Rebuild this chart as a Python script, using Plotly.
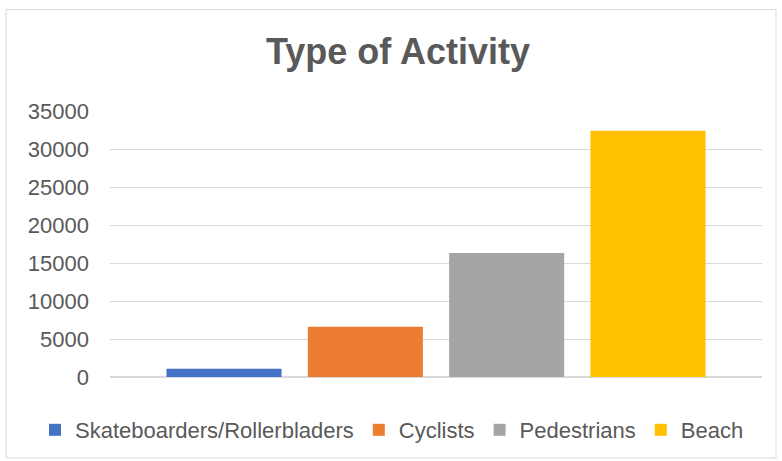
import plotly.graph_objects as go

title_text = "Type of Activity"
series_names = ["Skateboarders/Rollerbladers", "Cyclists", "Pedestrians", "Beach"]
series_values = [1100, 6600, 16300, 32400]
series_colors = ["#4472C4", "#ED7D31", "#A5A5A5", "#FFC000"]
category = [""]
y_ticks = [0, 5000, 10000, 15000, 20000, 25000, 30000, 35000]

W, H = 782, 461
L, R, T, B = 110, 20, 111, 84
pw, ph = W - L - R, H - T - B

fig = go.Figure()
for name, val, col in zip(series_names, series_values, series_colors):
    fig.add_trace(go.Bar(x=category, y=[val], name=name, marker=dict(color=col, line=dict(width=0))))

def px_x(x):
    return (x - L) / pw

def px_y(y):
    return (H - B - y) / ph

fig.update_layout(
    width=W, height=H,
    margin=dict(l=L, r=R, t=T, b=B, pad=0, autoexpand=False),
    paper_bgcolor="white", plot_bgcolor="white",
    barmode="group", bargap=0.133, bargroupgap=0.186,
    font=dict(family="Liberation Sans, Arial, sans-serif", color="#595959", size=22),
    title=dict(text="<b>" + title_text + "</b>", x=398 / W, xanchor="center",
               y=1 - 51 / H, yanchor="middle", automargin=False,
               font=dict(size=36, color="#595959", family="Liberation Sans, Arial, sans-serif")),
    showlegend=True,
    legend=dict(orientation="h", x=px_x(35), xanchor="left", y=px_y(430), yanchor="middle",
                font=dict(size=22, color="#595959"), itemsizing="constant", itemwidth=30,
                bgcolor="rgba(0,0,0,0)", traceorder="normal"),
    xaxis=dict(showticklabels=False, showgrid=False, zeroline=False, showline=False, ticks=""),
    yaxis=dict(range=[0, 35000], tickvals=y_ticks, tickformat="d", showgrid=True,
               gridcolor="#D9D9D9", gridwidth=1, zeroline=True, zerolinecolor="#D9D9D9",
               zerolinewidth=2, showline=False, ticks="", ticklabelstandoff=20,
               tickfont=dict(size=22, color="#595959")),
    shapes=[dict(type="rect", xref="paper", yref="paper",
                 x0=px_x(6), x1=px_x(776), y0=px_y(458), y1=px_y(9.5),
                 line=dict(color="#D9D9D9", width=1), fillcolor="rgba(0,0,0,0)", layer="below")],
)

fig.write_html("out.html", config={"displayModeBar": False},
               post_script="document.body.style.margin='0';document.body.style.overflow='hidden';")
